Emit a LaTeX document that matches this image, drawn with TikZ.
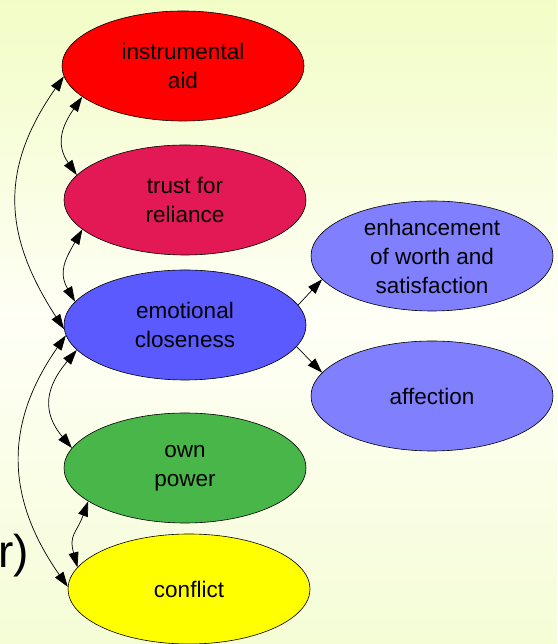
\documentclass[tikz,border=0pt]{standalone}
\usepackage{fontspec}
\setmainfont{Liberation Sans}
\usetikzlibrary{shapes.geometric,arrows.meta}

\definecolor{bgtop}{RGB}{228,250,150}
\definecolor{bgmid}{RGB}{255,255,246}
\definecolor{bgbot}{RGB}{234,250,182}
\definecolor{aidred}{RGB}{255,0,0}
\definecolor{trustred}{RGB}{227,25,85}
\definecolor{closeblue}{RGB}{90,90,255}
\definecolor{powergreen}{RGB}{72,182,72}
\definecolor{conflictyellow}{RGB}{255,255,0}
\definecolor{subblue}{RGB}{128,128,255}

\pgfdeclareverticalshading{bgshade}{100bp}{color(0bp)=(bgbot); color(50bp)=(bgmid); color(100bp)=(bgtop)}

\tikzset{
  oval/.style={ellipse, draw=black, line width=0.6pt, minimum width=242pt,
    minimum height=110pt, inner sep=0pt, align=center, text=black,
    font=\fontsize{22.5}{29}\selectfont},
  link/.style={draw=black, line width=0.7pt},
}

\begin{document}
\begin{tikzpicture}[x=1pt, y=1pt, >={Triangle[length=15pt,width=10pt]}]
  \useasboundingbox (0,0) rectangle (557,644);
  \shade[shading=bgshade] (0,0) rectangle (557,644);

  % partly visible heading text at the left edge
  \node[anchor=base west, inner sep=0pt, font=\fontsize{46}{46}\selectfont] (rp) at (-2,76) {r)};

  % support dimensions
  \node[oval, fill=aidred]         (ia)  at (183,578) {instrumental\\aid};
  \node[oval, fill=trustred]       (tr)  at (185,444) {trust for\\reliance};
  \node[oval, fill=closeblue]      (em)  at (185,319) {emotional\\closeness};
  \node[oval, fill=powergreen]     (op)  at (185,176) {own\\power};
  \node[oval, fill=conflictyellow] (cf)  at (189,55)  {conflict};
  \node[oval, fill=subblue]        (enh) at (432,388) {enhancement\\of worth and\\satisfaction};
  \node[oval, fill=subblue]        (aff) at (432,248) {affection};

  % mutual relations on the left side
  \draw[link,<->] (ia.185) to[out=235,in=123,looseness=1.14] (em.182);
  \draw[link,<->] (ia.197) to[out=235,in=125,looseness=1.2]  (tr.167);
  \draw[link,<->] (tr.196) to[out=240,in=120,looseness=1.2]  (em.168);
  \draw[link,<->] (em.193) to[out=230,in=130,looseness=1.25] (op.170);
  \draw[link,<->] (em.185) to[out=235,in=125,looseness=1.1]  (cf.179);
  \draw[link,<->] (op.199) to[out=250,in=105,looseness=1.3]  (cf.169);

  % emotional closeness splits into two parts
  \draw[link,->] (em.10)  -- (enh.192);
  \draw[link,->] (em.349) -- (aff.168);
\end{tikzpicture}
\end{document}
